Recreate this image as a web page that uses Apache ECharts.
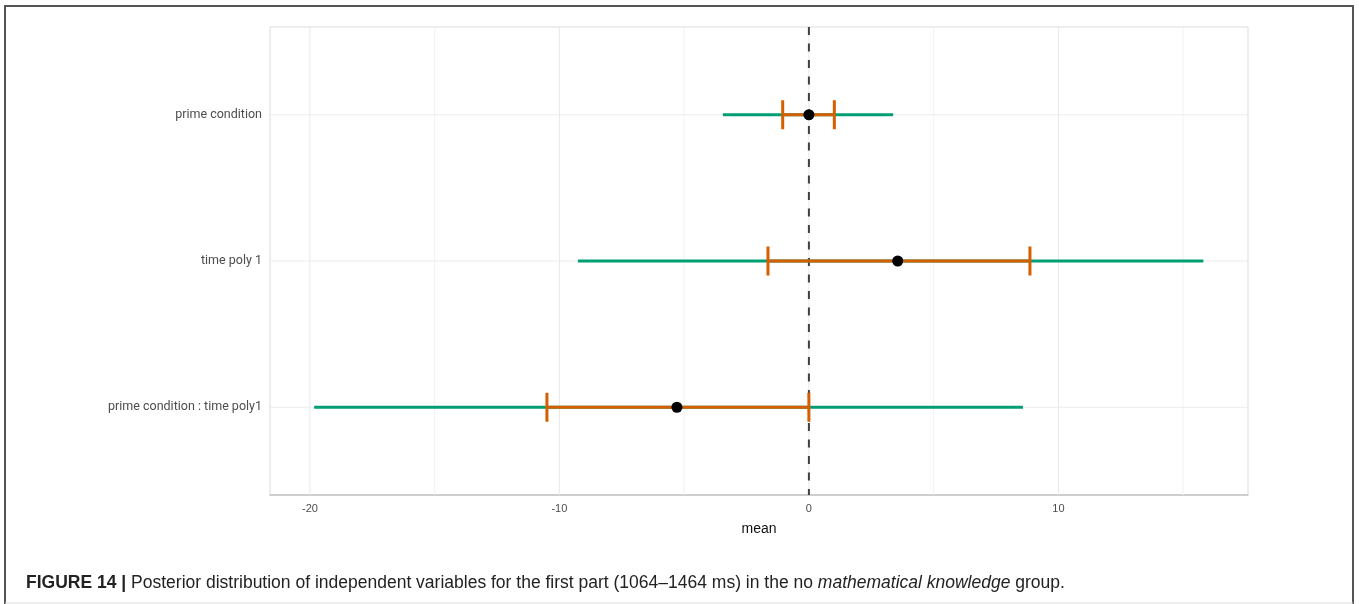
<!DOCTYPE html>
<html>
<head>
<meta charset="utf-8">
<script src="https://cdn.jsdelivr.net/npm/echarts@6/dist/echarts.min.js"></script>
<style>
html,body{margin:0;padding:0;background:#fff;}
#chart{width:1359px;height:604px;}
</style>
</head>
<body>
<div id="chart"></div>
<script>
// ---- data ----
const categories = ['prime condition', 'time poly 1', 'prime condition : time poly1'];
const means = [0, 3.56, -5.29];
const innerLow = [-1.05, -1.64, -10.5];
const innerHigh = [1.02, 8.86, 0.0];
const outerLow = [-3.45, -9.26, -19.83];
const outerHigh = [3.38, 15.81, 8.58];
const xTickLabels = [-20, -10, 0, 10];
const xMinorGrid = [-15, -5, 5, 15];
const refLine = [0];
const xTitle = 'mean';
const captionBold = 'FIGURE 14 |';
const captionPre = ' Posterior distribution of independent variables for the first part (1064–1464 ms) in the no ';
const captionItalic = 'mathematical knowledge';
const captionPost = ' group.';

const X_MIN = -21.6, X_MAX = 17.6, Y_MIN = 0.4, Y_MAX = 3.6;
const pos = categories.map((c, i) => i + 1);

const chart = echarts.init(document.getElementById('chart'), null, {renderer: 'canvas'});

function vLine(color, width, dash) {
  return function (params, api) {
    const a = api.coord([api.value(0), Y_MIN]);
    const b = api.coord([api.value(0), Y_MAX]);
    return {type: 'line', shape: {x1: a[0], y1: a[1], x2: b[0], y2: b[1]},
      style: {stroke: color, lineWidth: width, lineDash: dash || null}};
  };
}
function hLine(color, width) {
  return function (params, api) {
    const a = api.coord([X_MIN, api.value(0)]);
    const b = api.coord([X_MAX, api.value(0)]);
    return {type: 'line', shape: {x1: a[0], y1: a[1], x2: b[0], y2: b[1]},
      style: {stroke: color, lineWidth: width}};
  };
}

const capFont = 'Liberation Sans, Arial, sans-serif';
const capSize = 17.5;
const option = {
  animation: false,
  backgroundColor: '#fff',
  textStyle: {fontFamily: 'Roboto, sans-serif'},
  title: {
    left: 21, top: 569,
    text: '{b|' + captionBold + '}{n|' + captionPre + '}{i|' + captionItalic + '}{n|' + captionPost + '}',
    textStyle: {
      fontWeight: 'normal', fontSize: capSize, fontFamily: capFont, color: '#222',
      rich: {
        b: {fontFamily: capFont, fontWeight: 'bold', fontSize: capSize, color: '#222'},
        n: {fontFamily: capFont, fontWeight: 'normal', fontSize: capSize, color: '#222'},
        i: {fontFamily: capFont, fontWeight: 'normal', fontStyle: 'italic', fontSize: capSize, color: '#222'}
      }
    }
  },
  graphic: [
    {type: 'rect', z: 100, silent: true, shape: {x: 5, y: 6, width: 1348, height: 610},
      style: {fill: null, stroke: '#555', lineWidth: 2}},
    {type: 'line', z: 100, silent: true, shape: {x1: 5, y1: 603, x2: 1353, y2: 603},
      style: {stroke: '#ddd', lineWidth: 1}}
  ],
  grid: {left: 270, right: 111, top: 27, bottom: 109, show: true, borderColor: '#dcdcdc', borderWidth: 1, backgroundColor: 'transparent'},
  xAxis: {
    type: 'value', min: X_MIN, max: X_MAX,
    splitLine: {show: false},
    axisTick: {show: false},
    axisLine: {show: true, lineStyle: {color: '#c4c4c4', width: 1.5}},
    axisLabel: {customValues: xTickLabels, color: '#4d4d4d', fontSize: 11, margin: 8,
      fontFamily: 'Liberation Sans Narrow, Liberation Sans, sans-serif'},
    name: xTitle, nameLocation: 'middle', nameGap: 27,
    nameTextStyle: {color: '#111', fontSize: 14, fontFamily: 'Liberation Sans Narrow, Liberation Sans, sans-serif'}
  },
  yAxis: {
    type: 'value', min: Y_MIN, max: Y_MAX, inverse: true,
    splitLine: {show: false},
    axisLine: {show: false},
    axisTick: {show: true, customValues: pos, length: 5, lineStyle: {color: '#d0d0d0'}},
    axisLabel: {customValues: pos, color: '#4d4d4d', fontSize: 12.5, margin: 8,
      formatter: v => categories[Math.round(v) - 1]}
  },
  series: [
    {type: 'custom', silent: true, z: 1, renderItem: vLine('#f2f2f2', 1), data: xMinorGrid.map(v => [v])},
    {type: 'custom', silent: true, z: 1, renderItem: vLine('#e8e8e8', 1), data: xTickLabels.map(v => [v])},
    {type: 'custom', silent: true, z: 1, renderItem: hLine('#ececec', 1), data: pos.map(v => [v])},
    {type: 'custom', silent: true, z: 3, renderItem: vLine('#404040', 2, [8, 8.5]), data: refLine.map(v => [v])},
    {
      type: 'custom', silent: true, z: 4,
      renderItem: function (params, api) {
        const a = api.coord([api.value(0), api.value(2)]);
        const b = api.coord([api.value(1), api.value(2)]);
        return {type: 'line', shape: {x1: a[0], y1: a[1], x2: b[0], y2: b[1]},
          style: {stroke: '#009E73', lineWidth: 3}};
      },
      data: pos.map((p, i) => [outerLow[i], outerHigh[i], p])
    },
    {
      type: 'custom', silent: true, z: 5,
      renderItem: function (params, api) {
        const a = api.coord([api.value(0), api.value(2)]);
        const b = api.coord([api.value(1), api.value(2)]);
        const h = 14.5;
        const st = {stroke: '#D55E00', lineWidth: 3};
        return {type: 'group', children: [
          {type: 'line', shape: {x1: a[0], y1: a[1], x2: b[0], y2: b[1]}, style: st},
          {type: 'line', shape: {x1: a[0], y1: a[1] - h, x2: a[0], y2: a[1] + h}, style: st},
          {type: 'line', shape: {x1: b[0], y1: b[1] - h, x2: b[0], y2: b[1] + h}, style: st}
        ]};
      },
      data: pos.map((p, i) => [innerLow[i], innerHigh[i], p])
    },
    {
      type: 'scatter', silent: true, z: 6, symbol: 'circle', symbolSize: 11,
      itemStyle: {color: '#000', opacity: 1},
      data: pos.map((p, i) => [means[i], p])
    }
  ]
};
chart.setOption(option);
</script>
</body>
</html>
